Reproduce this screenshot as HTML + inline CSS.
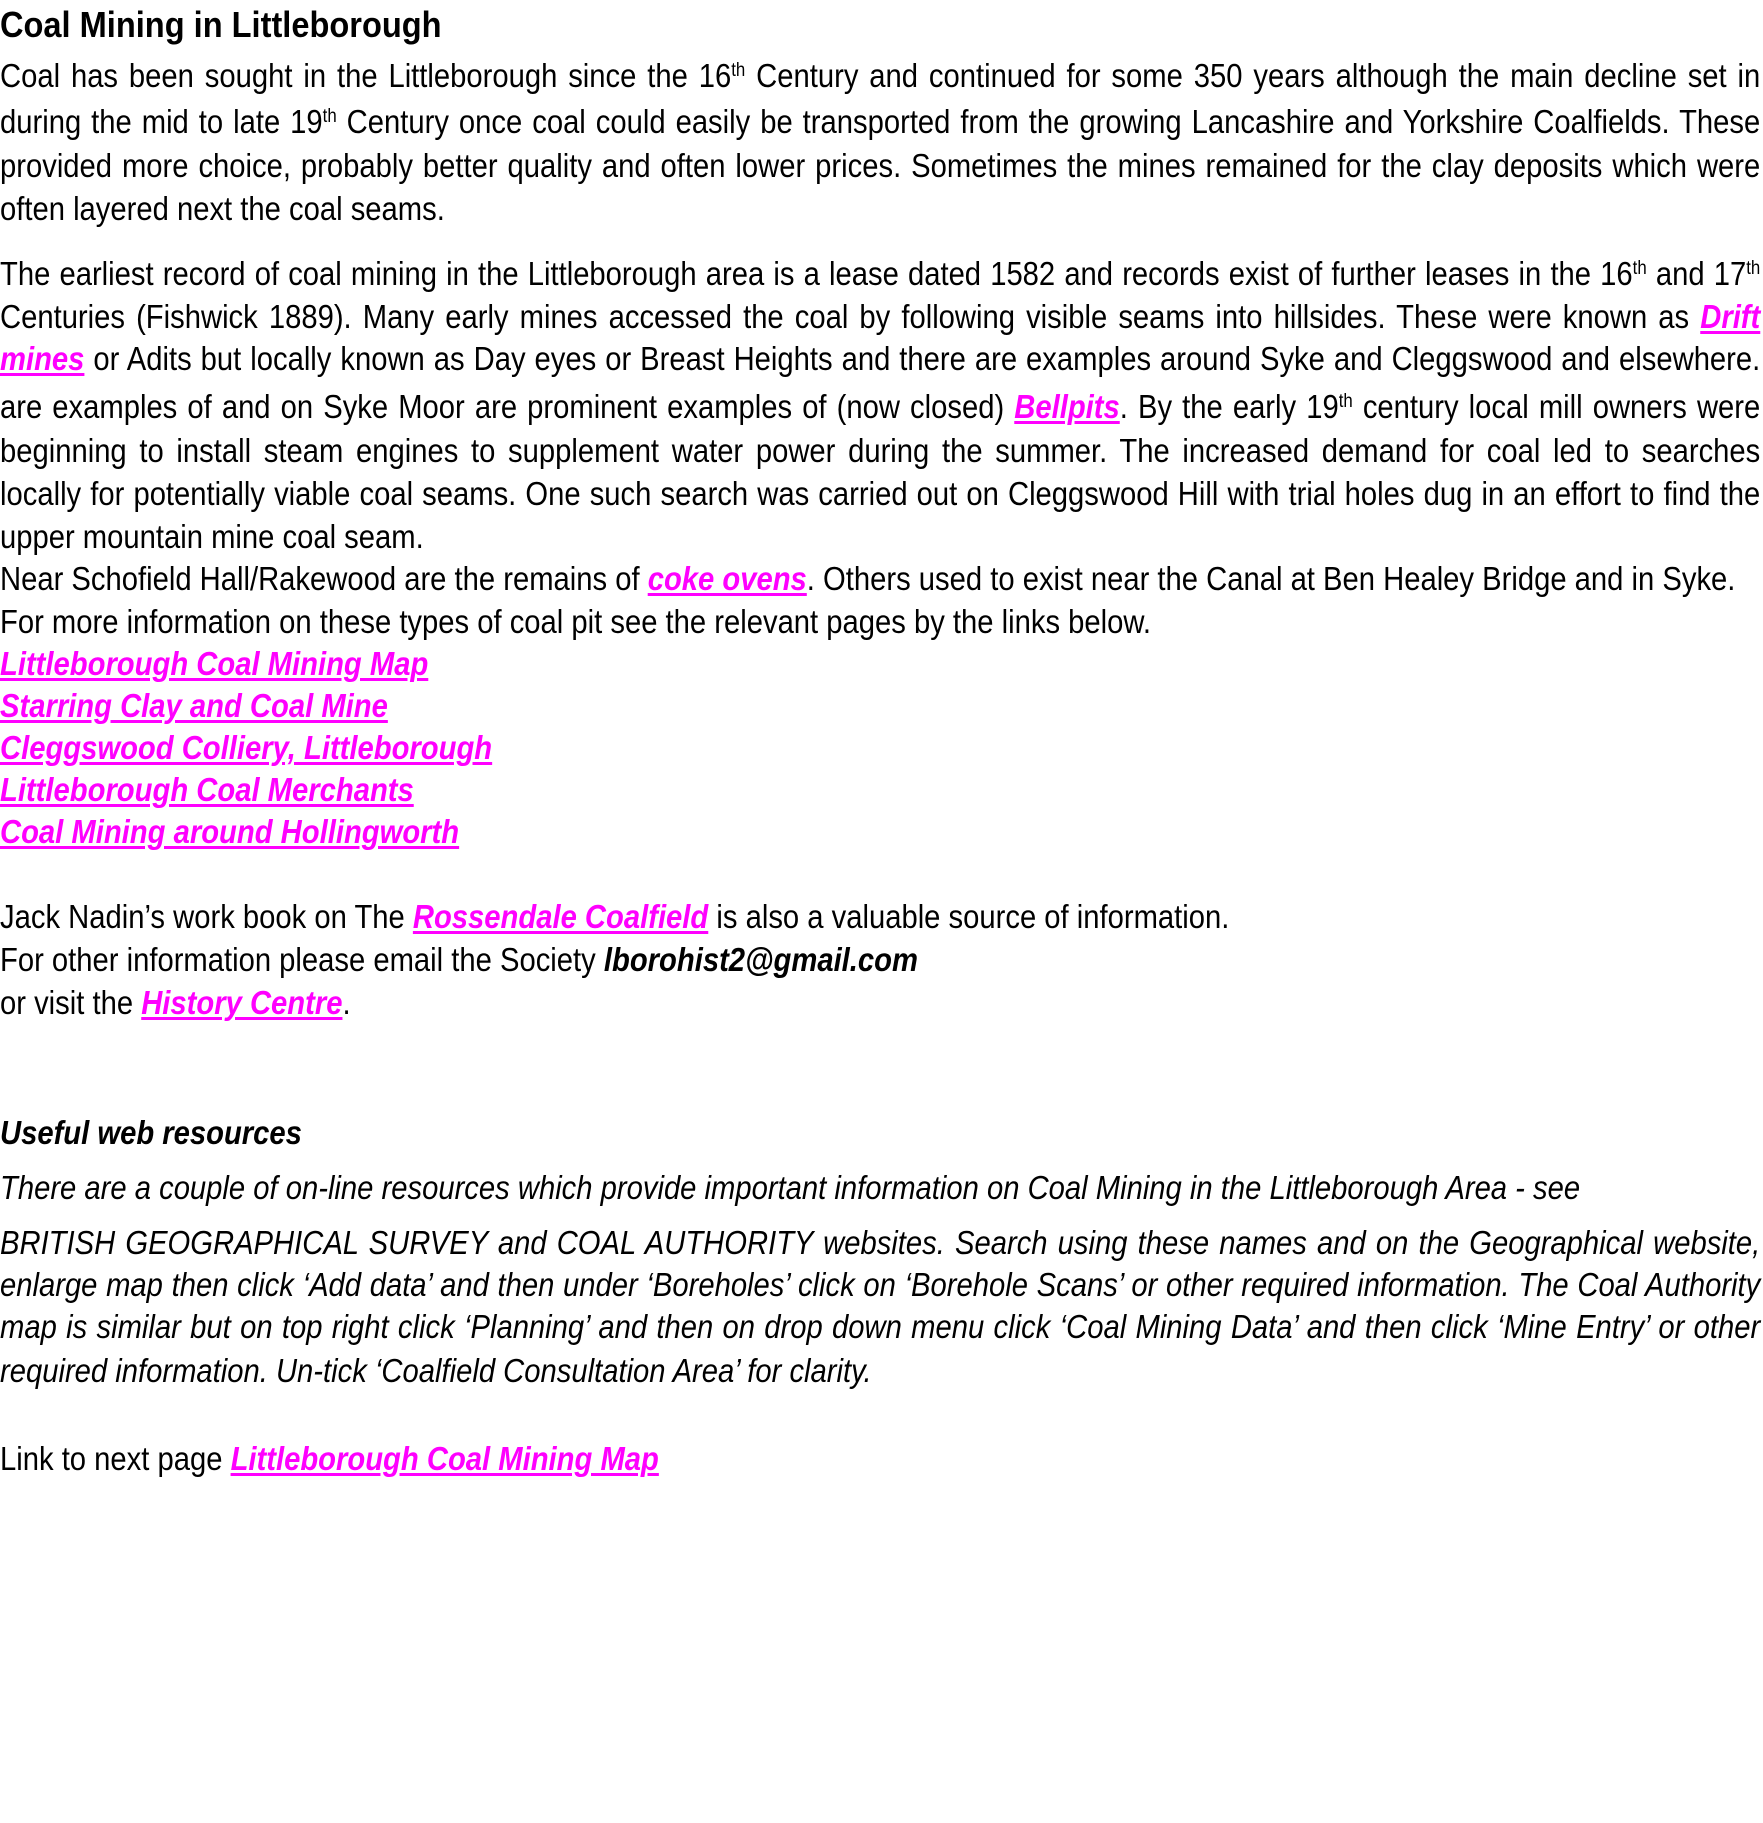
<!DOCTYPE html>
<html><head><meta charset="utf-8"><style>
html,body{margin:0;padding:0;background:#fff;width:1763px;height:1823px;overflow:hidden}
body{position:relative;font-family:"Liberation Sans",Arial,sans-serif;color:#000}
.l{position:absolute;left:0;width:1989px;height:43px;line-height:43px;font-size:33px;white-space:nowrap;transform:scaleX(0.885);transform-origin:0 0}
.j{text-align:justify;text-align-last:justify}
.i{font-style:italic}
sup{font-size:19px;vertical-align:0;position:relative;top:-11px;line-height:0}
a{color:#ff00ff;font-weight:bold;font-style:italic;text-decoration:underline;text-decoration-thickness:3px;text-underline-offset:3px}
.t{font-weight:bold;font-size:36px;transform:scaleX(0.905)}
</style></head><body>
<div class="l t" style="top:3px">Coal Mining in Littleborough</div>
<div class="l j" style="top:54px">Coal has been sought in the Littleborough since the 16<sup>th</sup> Century and continued for some 350 years although the main decline set in</div>
<div class="l j" style="top:100px">during the mid to late 19<sup>th</sup> Century once coal could easily be transported from the growing Lancashire and Yorkshire Coalfields. These</div>
<div class="l j" style="top:144px">provided more choice, probably better quality and often lower prices. Sometimes the mines remained for the clay deposits which were</div>
<div class="l" style="top:187px">often layered next the coal seams.</div>

<div class="l j" style="top:252px">The earliest record of coal mining in the Littleborough area is a lease dated 1582 and records exist of further leases in the 16<sup>th</sup> and 17<sup>th</sup></div>
<div class="l j" style="top:295px">Centuries (Fishwick 1889). Many early mines accessed the coal by following visible seams into hillsides. These were known as <a>Drift</a></div>
<div class="l j" style="top:337px"><a>mines</a> or Adits but locally known as Day eyes or Breast Heights and there are examples around Syke and Cleggswood and elsewhere.</div>
<div class="l j" style="top:385px">are examples of and on Syke Moor are prominent examples of (now closed) <a>Bellpits</a>. By the early 19<sup>th</sup> century local mill owners were</div>
<div class="l j" style="top:429px">beginning to install steam engines to supplement water power during the summer. The increased demand for coal led to searches</div>
<div class="l j" style="top:472px">locally for potentially viable coal seams. One such search was carried out on Cleggswood Hill with trial holes dug in an effort to find the</div>
<div class="l" style="top:515px">upper mountain mine coal seam.</div>
<div class="l" style="top:557px">Near Schofield Hall/Rakewood are the remains of <a>coke ovens</a>. Others used to exist near the Canal at Ben Healey Bridge and in Syke.</div>
<div class="l" style="top:600px">For more information on these types of coal pit see the relevant pages by the links below.</div>
<div class="l" style="top:642px"><a>Littleborough Coal Mining Map</a></div>
<div class="l" style="top:684px"><a>Starring Clay and Coal Mine</a></div>
<div class="l" style="top:726px"><a>Cleggswood Colliery, Littleborough</a></div>
<div class="l" style="top:768px"><a>Littleborough Coal Merchants</a></div>
<div class="l" style="top:810px"><a>Coal Mining around Hollingworth</a></div>

<div class="l" style="top:895px">Jack Nadin’s work book on The <a>Rossendale Coalfield</a> is also a valuable source of information.</div>
<div class="l" style="top:938px">For other information please email the Society <b><i>lborohist2@gmail.com</i></b></div>
<div class="l" style="top:981px">or visit the <a>History Centre</a>.</div>

<div class="l i" style="top:1111px;font-weight:bold">Useful web resources</div>
<div class="l i" style="top:1166px">There are a couple of on-line resources which provide important information on Coal Mining in the Littleborough Area - see</div>
<div class="l i j" style="top:1221px">BRITISH GEOGRAPHICAL SURVEY and COAL AUTHORITY websites. Search using these names and on the Geographical website,</div>
<div class="l i j" style="top:1263px">enlarge map then click ‘Add data’ and then under ‘Boreholes’ click on ‘Borehole Scans’ or other required information. The Coal Authority</div>
<div class="l i j" style="top:1305px">map is similar but on top right click ‘Planning’ and then on drop down menu click ‘Coal Mining Data’ and then click ‘Mine Entry’ or other</div>
<div class="l i" style="top:1349px">required information. Un-tick ‘Coalfield Consultation Area’ for clarity.</div>

<div class="l" style="top:1437px">Link to next page <a>Littleborough Coal Mining Map</a></div>
</body></html>
